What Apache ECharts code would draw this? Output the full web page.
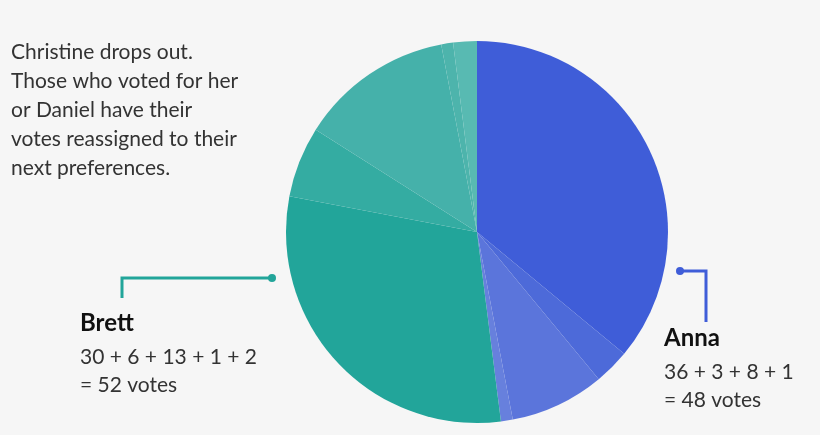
<!DOCTYPE html>
<html><head><meta charset="utf-8">
<script src="https://cdn.jsdelivr.net/npm/echarts@6/dist/echarts.min.js"></script>
<style>html,body{margin:0;background:#f6f6f6}#c{width:820px;height:435px}</style>
</head><body><div id="c"></div>
<script>
const categories = ['Anna 36','Anna 3','Anna 8','Anna 1','Brett 30','Brett 6','Brett 13','Brett 1','Brett 2'];
const values = [36,3,8,1,30,6,13,1,2];
const colors = ['#3f5dd8','#4d6ad9','#5b75db','#6780dd','#22a59a','#34aca2','#45b1aa','#4db4ac','#58bab2'];
const chart = echarts.init(document.getElementById('c'));
const txt = {fill:'#333',font:'21px Lato, "Noto Sans", sans-serif'};
chart.setOption({
  backgroundColor:'#f6f6f6',
  series:[{type:'pie',center:[477,232],radius:[0,191],startAngle:90,clockwise:true,
    label:{show:false},labelLine:{show:false},silent:true,
    data:categories.map((n,i)=>({name:n,value:values[i],itemStyle:{color:colors[i]}}))}],
  graphic:[
    {type:'text',left:11,top:38,style:Object.assign({text:'Christine drops out.\nThose who voted for her\nor Daniel have their\nvotes reassigned to their\nnext preferences.',lineHeight:29},txt)},
    {type:'polyline',shape:{points:[[122,298],[122,278],[272,278]]},style:{stroke:'#22a59a',lineWidth:3,fill:null}},
    {type:'circle',shape:{cx:272,cy:278,r:4},style:{fill:'#22a59a'}},
    {type:'text',left:80,top:311,style:{text:'Brett',fill:'#111',font:'bold 24px Lato, "Noto Sans", sans-serif'}},
    {type:'text',left:80,top:343,style:Object.assign({text:'30 + 6 + 13 + 1 + 2\n= 52 votes',lineHeight:28},txt)},
    {type:'polyline',shape:{points:[[680,271],[706,271],[706,322]]},style:{stroke:'#3f5dd8',lineWidth:3,fill:null}},
    {type:'circle',shape:{cx:680,cy:271,r:4},style:{fill:'#3f5dd8'}},
    {type:'text',left:664,top:326,style:{text:'Anna',fill:'#111',font:'bold 24px Lato, "Noto Sans", sans-serif'}},
    {type:'text',left:664,top:358,style:Object.assign({text:'36 + 3 + 8 + 1\n= 48 votes',lineHeight:28},txt)}
  ]
});
</script></body></html>
